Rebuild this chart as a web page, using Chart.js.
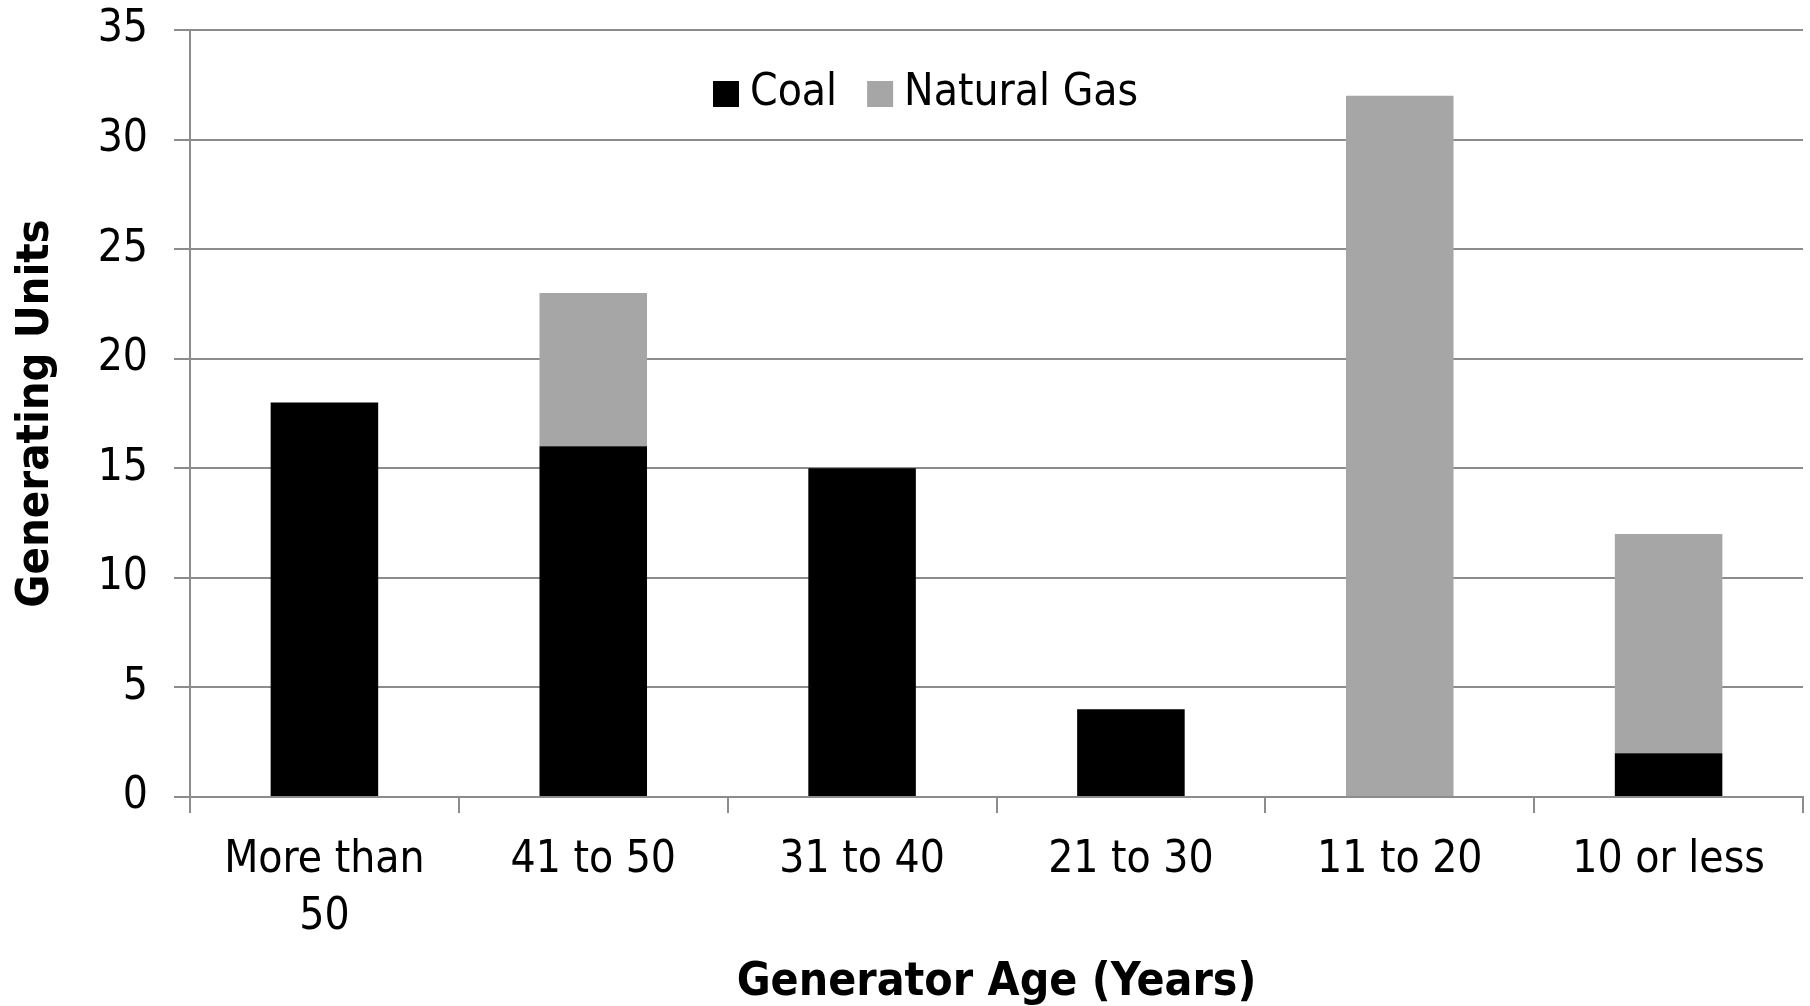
<!DOCTYPE html>
<html>
<head>
<meta charset="utf-8">
<script src="https://cdn.jsdelivr.net/npm/chart.js@4.4.0/dist/chart.umd.min.js"></script>
<style>
  html, body { margin: 0; padding: 0; background: #fff; }
  #wrap { width: 1810px; height: 1006px; }
</style>
</head>
<body>
<div id="wrap"><canvas id="ageChart" width="1810" height="1006"></canvas></div>
<script>
/* ===============================
   DATA
================================ */
const categories = [["More than", "50"], "41 to 50", "31 to 40", "21 to 30", "11 to 20", "10 or less"];
const coalUnits = [18, 16, 15, 4, 0, 2];
const gasUnits = [0, 7, 0, 0, 32, 10];
const yTicks = [0, 5, 10, 15, 20, 25, 30, 35];

const FONT = "'DejaVu Sans Condensed', 'DejaVu Sans', sans-serif";
const GRID = "#8c8c8c";

/* ===============================
   LEGEND (inside plot, like Excel)
================================ */
const insideLegend = {
  id: "insideLegend",
  afterDraw(chart) {
    const ctx = chart.ctx;
    const area = chart.chartArea;
    let x = area.left + 523;
    const y = area.top + 64;
    ctx.save();
    ctx.font = "44px " + FONT;
    ctx.textBaseline = "middle";
    ctx.textAlign = "left";
    chart.data.datasets.forEach(ds => {
      ctx.fillStyle = ds.backgroundColor;
      ctx.fillRect(x, y - 13, 26, 26);
      x += 37;
      ctx.fillStyle = "#000";
      ctx.fillText(ds.label, x, y);
      x += ctx.measureText(ds.label).width + 30;
    });
    ctx.restore();
  }
};

/* ===============================
   CHART
================================ */
new Chart(document.getElementById("ageChart"), {
  type: "bar",
  data: {
    labels: categories,
    datasets: [
      { label: "Coal", data: coalUnits, backgroundColor: "#000000", categoryPercentage: 1, barPercentage: 0.4 },
      { label: "Natural Gas", data: gasUnits, backgroundColor: "#a6a6a6", categoryPercentage: 1, barPercentage: 0.4 }
    ]
  },
  options: {
    responsive: false,
    devicePixelRatio: 1,
    animation: false,
    layout: { padding: { left: 0, right: 7, top: 0, bottom: 0 } },
    plugins: {
      legend: { display: false },
      tooltip: { enabled: false }
    },
    scales: {
      x: {
        stacked: true,
        grid: { drawOnChartArea: false, drawTicks: true, tickLength: 16, color: GRID, lineWidth: 2 },
        border: { display: true, color: GRID, width: 2 },
        ticks: { color: "#000", font: { family: FONT, size: 44, lineHeight: 1.3 }, padding: 19, maxRotation: 0, autoSkip: false },
        title: { display: true, text: "Generator Age (Years)", color: "#000", font: { family: FONT, size: 46, weight: "bold", lineHeight: 1.0 }, padding: { top: 0, bottom: 0 } },
        afterFit(scale) { scale.height = 209; }
      },
      y: {
        stacked: true,
        min: 0,
        max: 35,
        afterBuildTicks(scale) { scale.ticks = yTicks.map(v => ({ value: v })); },
        grid: { color: GRID, lineWidth: 2, tickLength: 16 },
        border: { display: true, color: GRID, width: 2 },
        ticks: { color: "#000", font: { family: FONT, size: 44 }, padding: 26 },
        title: { display: true, text: "Generating Units", color: "#000", font: { family: FONT, size: 45, weight: "bold" }, padding: { top: 9, bottom: 0 } },
        afterFit(scale) { scale.width = 190; scale.paddingTop = 30; scale.paddingBottom = 0; }
      }
    }
  },
  plugins: [insideLegend]
});
</script>
</body>
</html>
